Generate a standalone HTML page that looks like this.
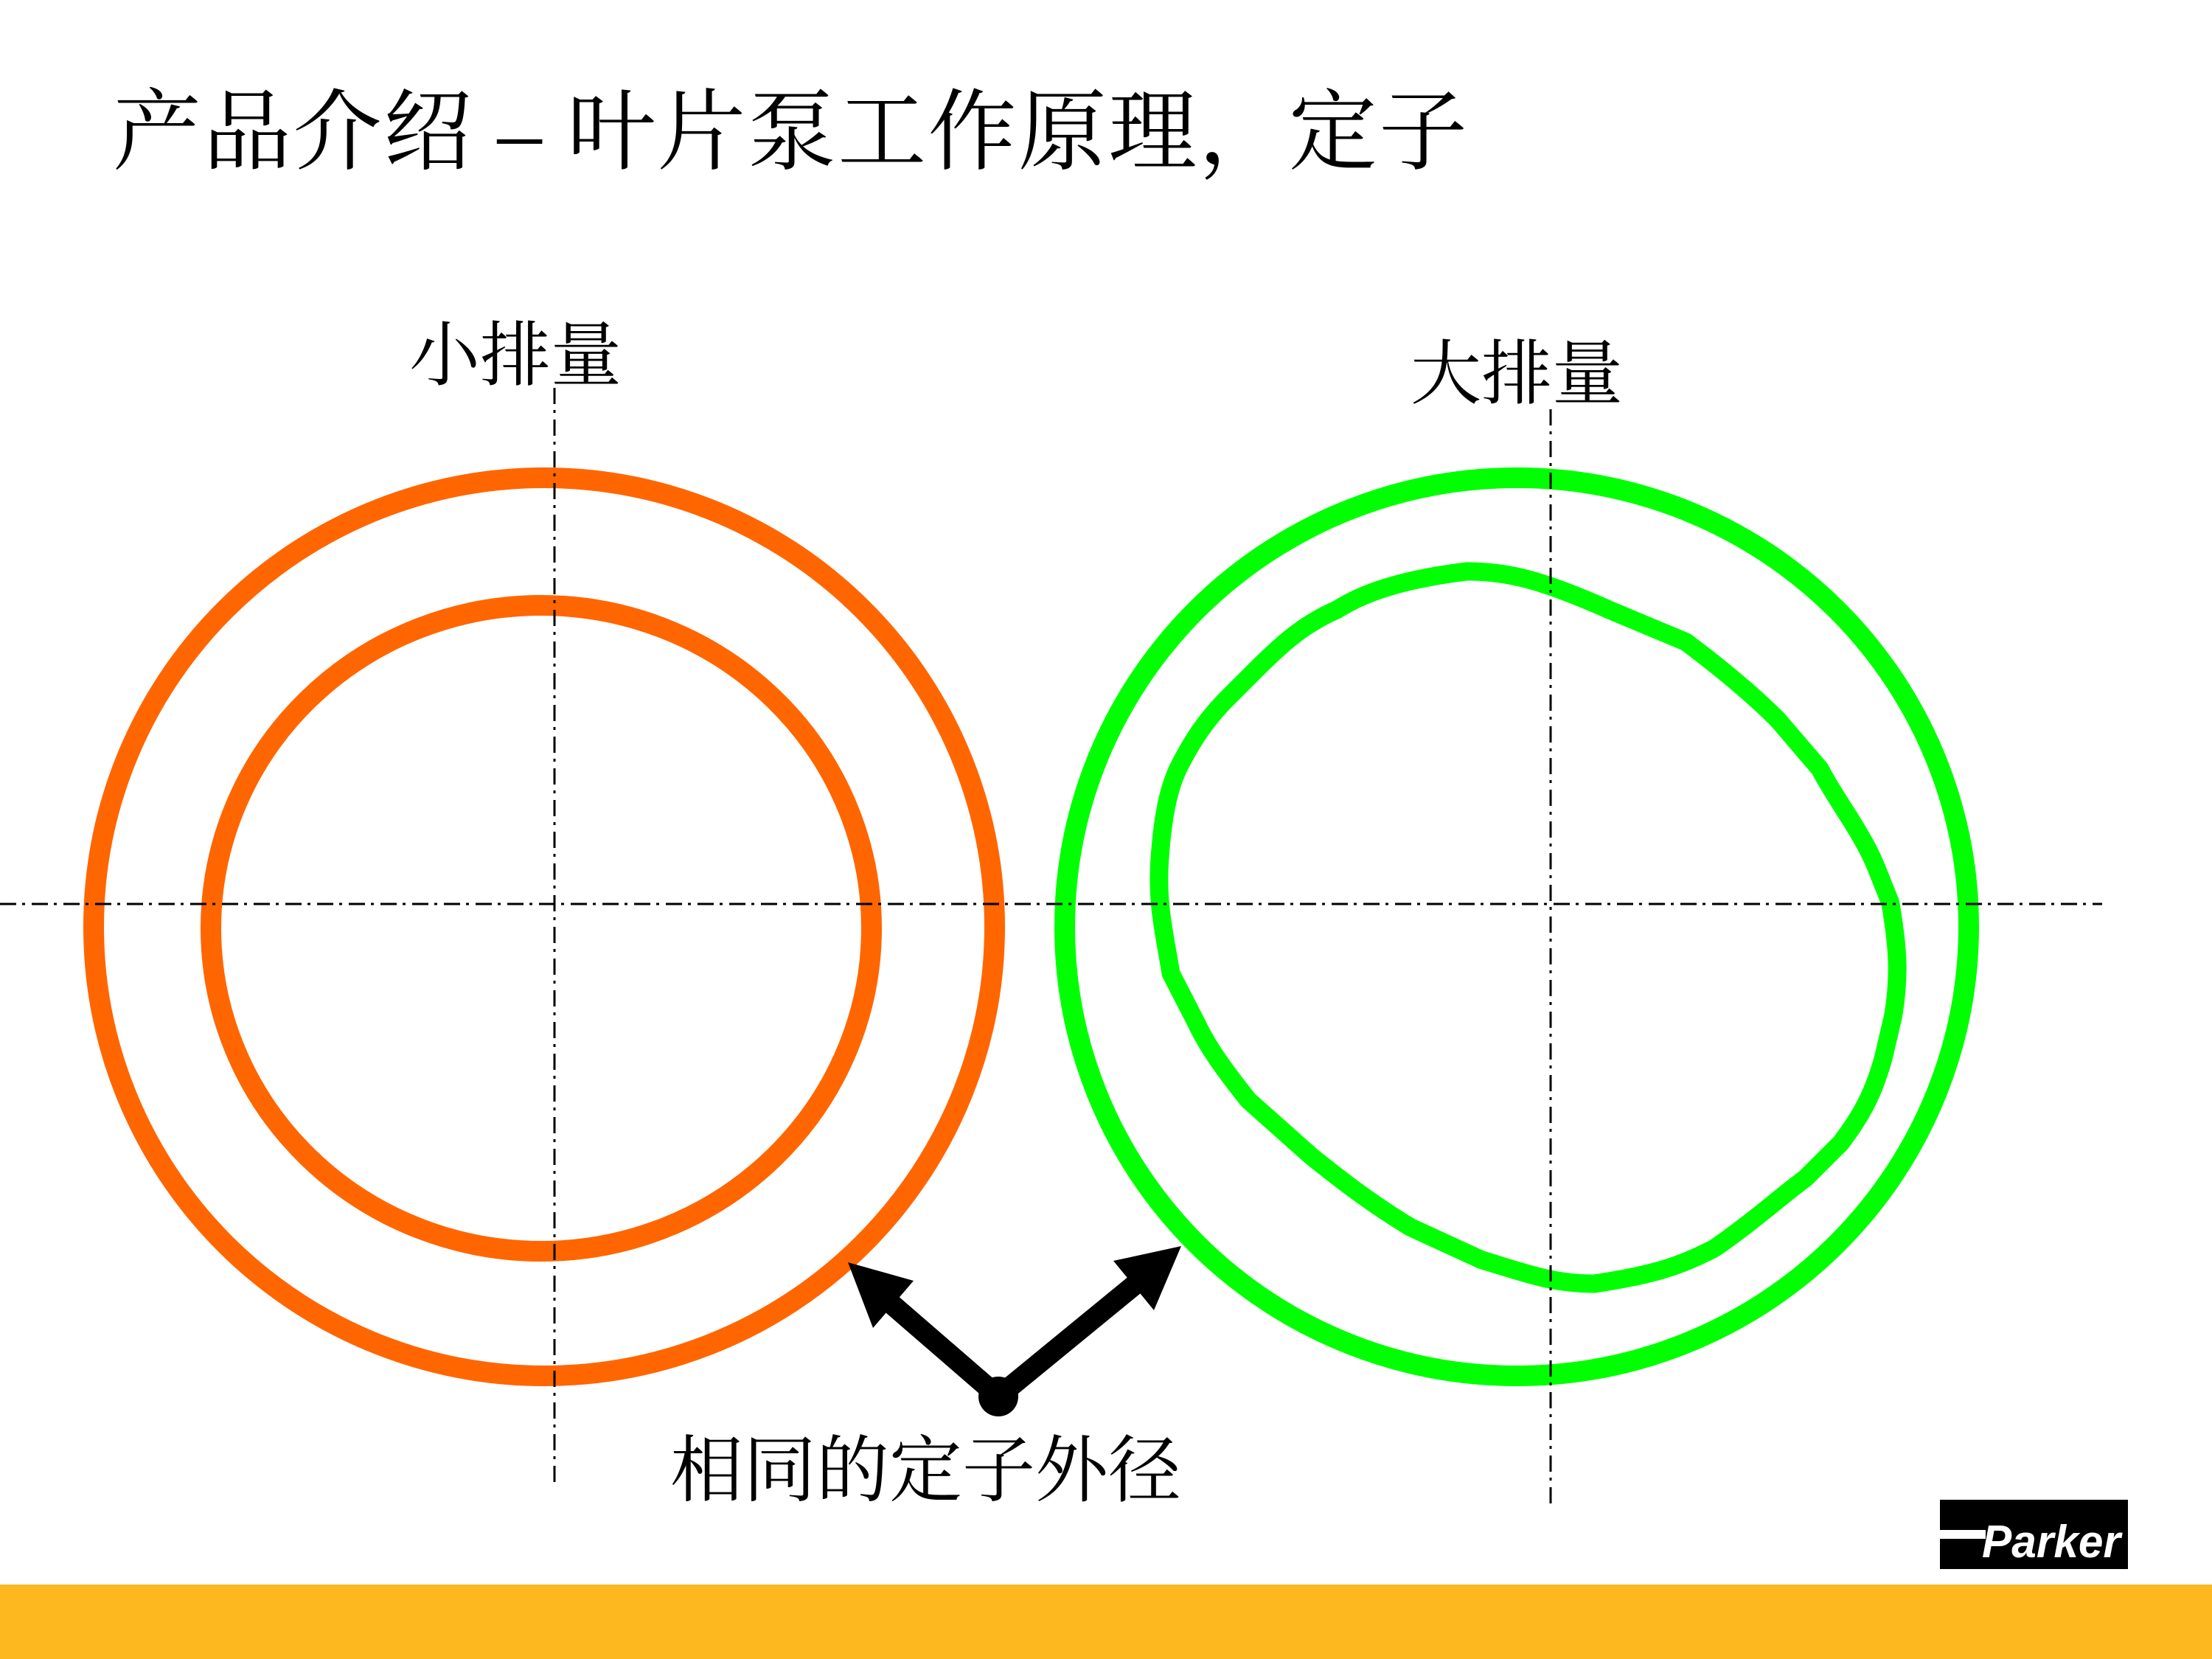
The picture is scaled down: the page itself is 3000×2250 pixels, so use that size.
<!DOCTYPE html>
<html><head><meta charset="utf-8"><style>
html,body{margin:0;padding:0;background:#fff;}
svg{display:block;}
text{font-family:"Liberation Serif","Noto Serif CJK SC",serif;fill:#000;}
</style></head><body>
<svg width="3000" height="2250" viewBox="0 0 3000 2250" xmlns="http://www.w3.org/2000/svg">
<rect width="3000" height="2250" fill="#fff"/>
<text x="153" y="220" font-size="120" textLength="1837" lengthAdjust="spacing">产品介绍 – 叶片泵工作原理，定子</text>
<text x="555" y="515" font-size="96">小排量</text>
<text x="1913" y="540" font-size="96">大排量</text>
<text x="909" y="2028" font-size="99">相同的定子外径</text>

<ellipse cx="738" cy="1257" rx="611" ry="609" fill="none" stroke="#FF6600" stroke-width="28"/>
<ellipse cx="734" cy="1259" rx="448" ry="438" fill="none" stroke="#FF6600" stroke-width="28"/>
<ellipse cx="2057" cy="1257" rx="613" ry="609" fill="none" stroke="#00FF00" stroke-width="28"/>
<g transform="scale(1.9133)">
<path d="M948,432 C970,418 1000,410 1040,405 C1070,405 1095,412 1140,432 L1195,455 C1215,470 1240,490 1260,510 L1290,545 C1300,565 1320,590 1330,615 L1340,640 C1345,670 1347,690 1342,720 L1335,750 C1328,775 1320,790 1305,810 L1280,835 C1260,850 1240,868 1215,885 C1190,898 1170,904 1130,910 C1100,910 1080,902 1050,893 L1000,870 C975,855 955,840 930,820 L885,780 C865,755 855,740 848,725 L830,690 C825,660 820,640 822,610 C824,580 828,560 835,545 C845,525 855,510 870,495 L890,475 C910,455 925,442 948,432 Z" fill="none" stroke="#00FF00" stroke-width="13" stroke-linejoin="round"/>
</g>

<g stroke="#000" stroke-width="3" stroke-dasharray="22 8 4 9" fill="none">
<line x1="0" y1="1226" x2="2851" y2="1226"/>
<line x1="752" y1="526" x2="752" y2="2018"/>
<line x1="2103" y1="555" x2="2103" y2="2043"/>
</g>

<g fill="#000">
<circle cx="1354" cy="1894" r="27"/>
<line x1="1354" y1="1894" x2="1205" y2="1765" stroke="#000" stroke-width="28"/>
<line x1="1354" y1="1894" x2="1548" y2="1735" stroke="#000" stroke-width="28"/>
<polygon points="1150,1712 1239,1737 1184,1801"/>
<polygon points="1602,1690 1510,1710 1565,1777"/>
</g>

<rect x="2631" y="2034" width="255" height="94" fill="#000"/>
<rect x="2631" y="2075" width="62" height="12" fill="#fff"/>
<text x="2688" y="2112" font-size="62" font-weight="bold" font-style="italic" style="font-family:'Liberation Sans',sans-serif;fill:#fff" textLength="188" lengthAdjust="spacingAndGlyphs">Parker</text>

<rect x="0" y="2149" width="3000" height="101" fill="#FDB71F"/>
</svg>
</body></html>
